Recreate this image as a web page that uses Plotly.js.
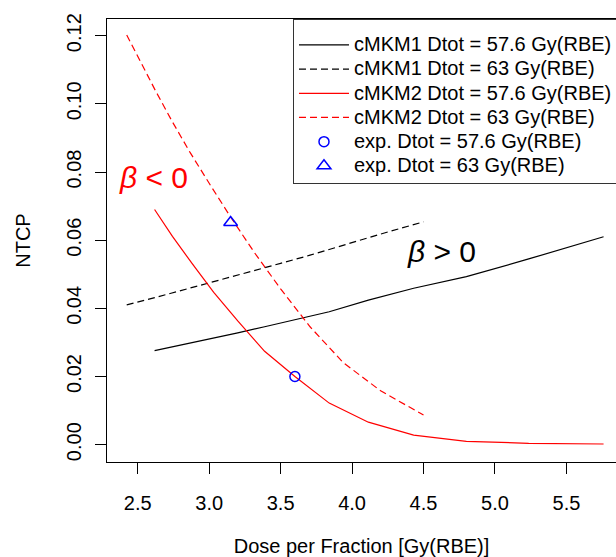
<!DOCTYPE html>
<html>
<head>
<meta charset="utf-8">
<script src="https://cdn.plot.ly/plotly-3.0.1.min.js"></script>
<style>html,body{margin:0;padding:0;background:#fff;}#chart{width:616px;height:557px;}</style>
</head>
<body>
<div id="chart"></div>
<script>
// Dose per fraction for each total dose (Dtot / n fractions)
const dose576 = [2.618, 2.743, 2.88, 3.032, 3.2, 3.388, 3.6, 3.84, 4.114, 4.431, 4.8, 5.236, 5.76];
const dose63  = [2.423, 2.52, 2.625, 2.739, 2.864, 3.0, 3.15, 3.316, 3.5, 3.706, 3.9375, 4.2, 4.5];

// NTCP values
const cmkm1_576 = [0.0276, 0.0287, 0.0298, 0.0311, 0.0328, 0.0346, 0.0366, 0.0390, 0.0424, 0.0459, 0.0493, 0.0545, 0.0610];
const cmkm1_63  = [0.0410, 0.0420, 0.0432, 0.0445, 0.0459, 0.0476, 0.0492, 0.0510, 0.0532, 0.0556, 0.0586, 0.0618, 0.0654];
const cmkm2_576 = [0.0690, 0.0611, 0.0532, 0.0447, 0.0363, 0.0274, 0.0200, 0.0122, 0.0066, 0.0028, 0.0010, 0.0004, 0.0002];
const cmkm2_63  = [0.1202, 0.1121, 0.1038, 0.0950, 0.0859, 0.0767, 0.0668, 0.0564, 0.0457, 0.0346, 0.0241, 0.0158, 0.0087];

// Experimental points
const exp576_x = [3.6],  exp576_y = [0.020];
const exp63_x  = [3.15], exp63_y  = [0.0652];

const names = [
  'cMKM1 Dtot = 57.6 Gy(RBE)',
  'cMKM1 Dtot = 63 Gy(RBE)',
  'cMKM2 Dtot = 57.6 Gy(RBE)',
  'cMKM2 Dtot = 63 Gy(RBE)',
  'exp. Dtot = 57.6 Gy(RBE)',
  'exp. Dtot = 63 Gy(RBE)'
];

const FONT = 'Liberation Sans, Arial, Helvetica, sans-serif';
const DASH = '7px,4px';
const lg = s => '<span style="font-size:20px">' + s + '</span>';

const traces = [
  {x: dose576, y: cmkm1_576, name: lg(names[0]), mode: 'lines', line: {color: '#000000', width: 1.2}},
  {x: dose63,  y: cmkm1_63,  name: lg(names[1]), mode: 'lines', line: {color: '#000000', width: 1.2, dash: DASH}},
  {x: dose576, y: cmkm2_576, name: lg(names[2]), mode: 'lines', line: {color: '#ff0000', width: 1.2}},
  {x: dose63,  y: cmkm2_63,  name: lg(names[3]), mode: 'lines', line: {color: '#ff0000', width: 1.2, dash: DASH}},
  {x: exp576_x, y: exp576_y, name: lg(names[4]), mode: 'markers',
   marker: {symbol: 'circle-open', size: 10, color: '#0000ff', line: {width: 1.5, color: '#0000ff'}}},
  {x: exp63_x, y: exp63_y, name: lg(names[5]), mode: 'markers',
   marker: {symbol: 'triangle-up-open', size: 12, color: '#0000ff', line: {width: 1.5, color: '#0000ff'}}}
];

const layout = {
  width: 616, height: 557,
  margin: {l: 107, r: 0, t: 19, b: 95, autoexpand: false},
  paper_bgcolor: '#ffffff', plot_bgcolor: '#ffffff',
  font: {family: FONT, size: 20, color: '#000000'},
  showlegend: true,
  legend: {
    x: 0.3654, y: 1, xanchor: 'left', yanchor: 'top',
    bgcolor: '#ffffff', bordercolor: '#333333', borderwidth: 1,
    font: {family: FONT, size: 16.3, color: '#000000'},
    title: {text: ' ', font: {family: FONT, size: 6}},
    itemwidth: 50
  },
  xaxis: {
    range: [2.285, 5.847],
    tickvals: [2.5, 3.0, 3.5, 4.0, 4.5, 5.0, 5.5],
    tickformat: '.1f',
    ticks: 'outside', ticklen: 11, tickwidth: 1, tickcolor: '#000000',
    showline: true, linecolor: '#000000', linewidth: 1, mirror: true,
    showgrid: false, zeroline: false,
    tickfont: {family: FONT, size: 20, color: '#000000'},
    ticklabelstandoff: 12,
    title: {text: 'Dose per Fraction [Gy(RBE)]', font: {family: FONT, size: 20, color: '#000000'}, standoff: 27}
  },
  yaxis: {
    range: [-0.00508, 0.1249],
    tickvals: [0.00, 0.02, 0.04, 0.06, 0.08, 0.10, 0.12],
    tickformat: '.2f',
    tickangle: -90,
    ticks: 'outside', ticklen: 11, tickwidth: 1, tickcolor: '#000000',
    showline: true, linecolor: '#000000', linewidth: 1, mirror: false,
    showgrid: false, zeroline: false,
    tickfont: {family: FONT, size: 20, color: '#000000'},
    ticklabelstandoff: 6,
    title: {text: 'NTCP', font: {family: FONT, size: 20, color: '#000000'}, standoff: 27}
  },
  annotations: [
    {x: 2.607, y: 0.0783, xref: 'x', yref: 'y', text: '<i>β</i> < 0', showarrow: false,
     font: {family: FONT, size: 30, color: '#ff0000'}},
    {x: 4.627, y: 0.0566, xref: 'x', yref: 'y', text: '<i>β</i> > 0', showarrow: false,
     font: {family: FONT, size: 30, color: '#000000'}}
  ]
};

Plotly.newPlot('chart', traces, layout, {displayModeBar: false, staticPlot: true});
</script>
</body>
</html>
